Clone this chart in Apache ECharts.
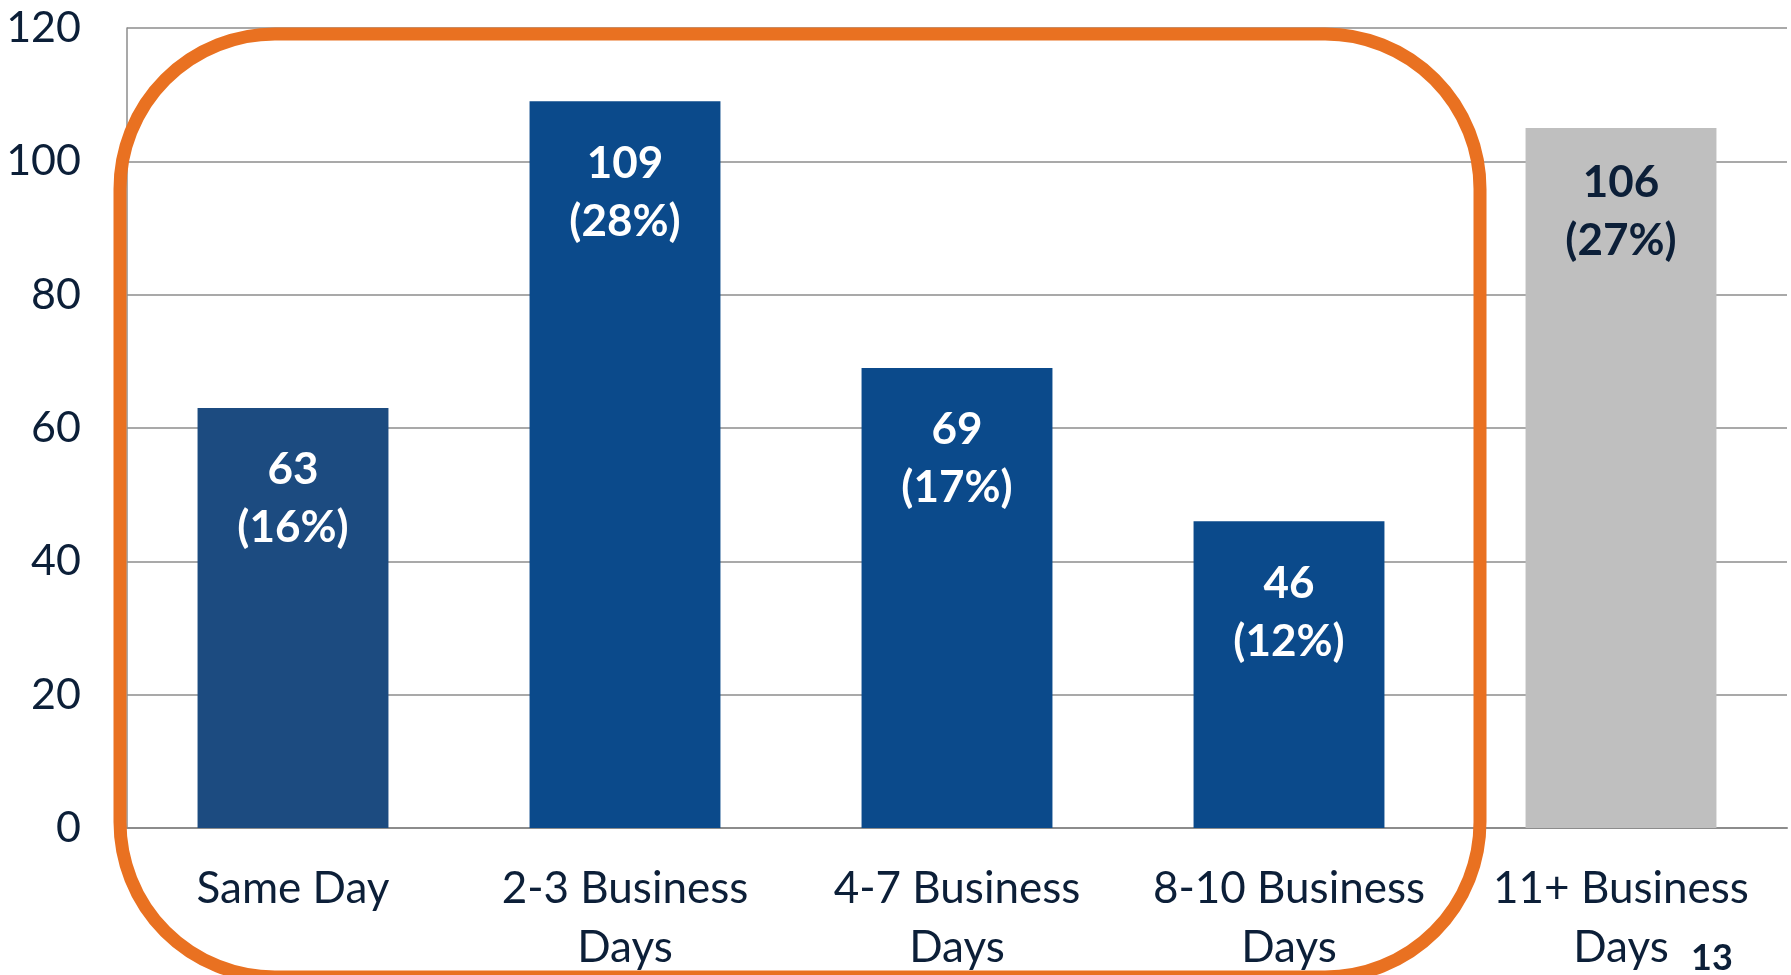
<!DOCTYPE html>
<html>
<head>
<meta charset="utf-8">
<script src="https://cdn.jsdelivr.net/npm/echarts@6/dist/echarts.min.js"></script>
<style>
html,body{margin:0;padding:0;background:#fff;}
#c{width:1791px;height:975px;}
</style>
</head>
<body>
<div id="c"></div>
<script>
// ---- data ----
const categories = ['Same Day', '2-3 Business\nDays', '4-7 Business\nDays', '8-10 Business\nDays', '11+ Business\nDays'];
const values = [63, 109, 69, 46, 105];          // bar heights
const labelCounts = ['63', '109', '69', '46', '106'];   // printed counts
const labelPercents = ['16%', '28%', '17%', '12%', '27%'];
const yTicks = { min: 0, max: 120, interval: 20 };
const pageNumber = '13';

const barColors = ['#1C4B80', '#0B4A8B', '#0B4A8B', '#0B4A8B', '#BFBFBF'];
const labelColors = ['#FFFFFF', '#FFFFFF', '#FFFFFF', '#FFFFFF', '#0C1F38'];
const labelDistances = [33, 33, 33, 33, 26];
const textColor = '#0C1F38';
const font = 'Lato, "Open Sans", sans-serif';

const chart = echarts.init(document.getElementById('c'));
chart.setOption({
  animation: false,
  backgroundColor: '#FFFFFF',
  grid: { left: 127, right: 4, top: 28, bottom: 147, containLabel: false, outerBoundsMode: 'none' },
  xAxis: {
    type: 'category',
    data: categories,
    axisTick: { show: false },
    axisLine: { lineStyle: { color: '#8C8C8C', width: 2 } },
    axisLabel: {
      color: textColor, fontSize: 44, fontFamily: font, lineHeight: 59,
      margin: 31, interval: 0
    }
  },
  yAxis: {
    type: 'value',
    min: yTicks.min, max: yTicks.max, interval: yTicks.interval,
    axisLine: { show: true, lineStyle: { color: '#8C8C8C', width: 1.5 } },
    axisTick: { show: false },
    splitLine: { lineStyle: { color: '#8C8C8C', width: 1.5 } },
    axisLabel: { color: textColor, fontSize: 43, fontFamily: font, margin: 46 }
  },
  series: [{
    type: 'bar',
    barWidth: '57.5%',
    data: values.map((v, i) => ({
      value: v,
      itemStyle: { color: barColors[i] },
      label: { color: labelColors[i], distance: labelDistances[i] }
    })),
    label: {
      show: true,
      position: 'insideTop',
      fontSize: 44,
      fontWeight: 'bold',
      fontFamily: font,
      lineHeight: 58,
      formatter: p => labelCounts[p.dataIndex] + '\n(' + labelPercents[p.dataIndex] + ')'
    }
  }],
  graphic: [
    {
      type: 'rect',
      z: 100,
      shape: { x: 120, y: 34, width: 1360, height: 943, r: 155 },
      style: { fill: null, stroke: '#E97121', lineWidth: 13 }
    },
    {
      type: 'text',
      z: 100,
      x: 1712, y: 958,
      style: {
        text: pageNumber, fill: textColor, fontSize: 36, fontWeight: 'bold',
        fontFamily: font, align: 'center', verticalAlign: 'middle'
      }
    }
  ]
});
</script>
</body>
</html>
